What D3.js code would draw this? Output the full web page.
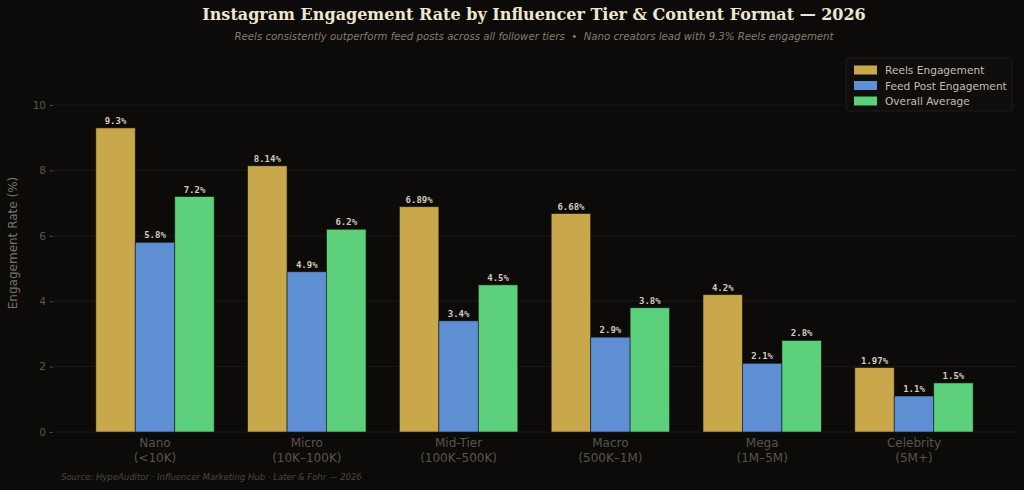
<!DOCTYPE html>
<html><head><meta charset="utf-8">
<script src="https://cdn.jsdelivr.net/npm/d3@7"></script>
<style>
html,body{margin:0;padding:0;background:#0c0b0a;}
svg{display:block;}
</style></head>
<body>
<svg id="chart" width="1024" height="490"></svg>
<script>
const tiers = ["Nano\n(<10K)", "Micro\n(10K–100K)", "Mid-Tier\n(100K–500K)", "Macro\n(500K–1M)", "Mega\n(1M–5M)", "Celebrity\n(5M+)"];
const seriesNames = ["Reels Engagement", "Feed Post Engagement", "Overall Average"];
const reels = [9.3, 8.14, 6.89, 6.68, 4.2, 1.97];
const feed = [5.8, 4.9, 3.4, 2.9, 2.1, 1.1];
const overall = [7.2, 6.2, 4.5, 3.8, 2.8, 1.5];
const yTicks = [0, 2, 4, 6, 8, 10];
const colors = ["#c9a84c", "#5f8fd3", "#5dd07c"];

const series = [reels, feed, overall];
const svg = d3.select("#chart");
svg.append("rect").attr("width",1024).attr("height",490).attr("fill","#0c0b0a");

const left = 53, right = 1016;
const x = d3.scaleLinear().domain([-0.672, tiers.length - 1 + 0.672]).range([left, right]);
const y = d3.scaleLinear().domain([0, 10]).range([432, 105]);
const bw = 0.26;

// grid
const g = svg.append("g");
g.selectAll("line.grid").data(yTicks).join("line")
  .attr("x1", left).attr("x2", right)
  .attr("y1", d => y(d)).attr("y2", d => y(d))
  .attr("stroke", "#1f1d1a").attr("stroke-width", 0.8);

// y axis
const yAxis = d3.axisLeft(y).tickValues(yTicks).tickSize(3.5).tickPadding(3.5).tickFormat(d3.format("d"));
const ya = svg.append("g").attr("transform", `translate(${left},0)`).call(yAxis);
ya.select(".domain").remove();
ya.selectAll(".tick line").attr("stroke", "#4a453d");
ya.selectAll(".tick text").attr("fill", "#5e5849").attr("font-family", "DejaVu Sans").attr("font-size", 10.5);

// bars
series.forEach((vals, si) => {
  const off = (si - 1) * bw;
  svg.append("g").selectAll("rect").data(vals).join("rect")
    .attr("x", (d, i) => x(i + off - bw / 2))
    .attr("width", x(bw) - x(0))
    .attr("y", d => y(d))
    .attr("height", d => y(0) - y(d))
    .attr("fill", colors[si])
    .attr("stroke", "rgba(20,18,15,0.7)").attr("stroke-width", 0.8);
  svg.append("g").selectAll("text").data(vals).join("text")
    .attr("x", (d, i) => x(i + off))
    .attr("y", d => y(d) - 4)
    .attr("text-anchor", "middle")
    .attr("font-family", "DejaVu Sans Mono").attr("font-weight", "bold").attr("font-size", 9)
    .attr("fill", "#d2cab9")
    .text(d => d + "%");
});

// x tick labels
const xa = svg.append("g");
tiers.forEach((t, i) => {
  const lines = t.split("\n");
  const tx = xa.append("text").attr("text-anchor", "middle")
    .attr("font-family", "DejaVu Sans").attr("font-size", 12).attr("fill", "#5a5447");
  lines.forEach((l, k) => tx.append("tspan").attr("x", x(i)).attr("y", 447 + k * 15).text(l));
});

// y label
svg.append("text").attr("transform", `translate(17,243) rotate(-90)`)
  .attr("text-anchor", "middle").attr("font-family", "DejaVu Sans").attr("font-size", 12)
  .attr("fill", "#7a7262").text("Engagement Rate (%)");

// title
svg.append("text").attr("x", 534).attr("y", 20).attr("text-anchor", "middle")
  .attr("font-family", "DejaVu Serif").attr("font-weight", "bold").attr("font-size", 16)
  .attr("fill", "#efe6d0").text("Instagram Engagement Rate by Influencer Tier & Content Format — 2026");
svg.append("text").attr("x", 534).attr("y", 40).attr("text-anchor", "middle")
  .attr("font-family", "DejaVu Sans").attr("font-style", "italic").attr("font-size", 10.2)
  .attr("fill", "#857c6b").style("white-space", "pre")
  .text("Reels consistently outperform feed posts across all follower tiers\u00a0 •\u00a0 Nano creators lead with 9.3% Reels engagement");

// source
svg.append("text").attr("x", 61).attr("y", 480)
  .attr("font-family", "DejaVu Sans").attr("font-style", "italic").attr("font-size", 8.5)
  .attr("fill", "#4c463a").text("Source: HypeAuditor · Influencer Marketing Hub · Later & Fohr — 2026");

// legend
const lg = svg.append("g");
lg.append("rect").attr("x", 846).attr("y", 58).attr("width", 166).attr("height", 53).attr("rx", 2)
  .attr("fill", "#0f0e0c").attr("stroke", "#24221e").attr("stroke-width", 0.8);
seriesNames.forEach((n, i) => {
  const yy = 70 + i * 15.5;
  lg.append("rect").attr("x", 854).attr("y", yy - 4.5).attr("width", 23).attr("height", 9).attr("fill", colors[i]);
  lg.append("text").attr("x", 885).attr("y", yy + 4).attr("font-family", "DejaVu Sans").attr("font-size", 10.6)
    .attr("fill", "#c5bdac").text(n);
});
</script>
</body></html>
